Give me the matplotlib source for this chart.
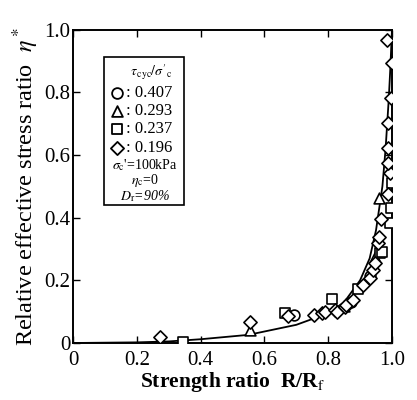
import matplotlib
matplotlib.use('Agg')
import matplotlib.pyplot as plt
from matplotlib.patches import Rectangle

plt.rcParams['font.family'] = 'Liberation Serif'
plt.rcParams['mathtext.fontset'] = 'stix'

# ── data ────────────────────────────────────────────────────────────────────
circle_R   = [0.693, 0.870, 0.930]
circle_eta = [0.088, 0.130, 0.215]

tri_R   = [0.555, 0.850, 0.946, 0.960]
tri_eta = [0.041, 0.118, 0.275, 0.462]

sq_R   = [0.345, 0.665, 0.811, 0.893, 0.962, 0.970, 0.994, 0.997, 1.000]
sq_eta = [0.004, 0.096, 0.140, 0.172, 0.287, 0.290, 0.383, 0.431, 0.510]

dia_R   = [0.273, 0.555, 0.675, 0.756, 0.780, 0.790, 0.821, 0.828, 0.853, 0.856,
           0.878, 0.909, 0.931, 0.940, 0.947, 0.956, 0.959, 0.966, 0.987, 0.994,
           0.987, 0.987, 0.987, 0.996, 0.999, 0.983]
dia_eta = [0.019, 0.067, 0.085, 0.089, 0.096, 0.099, 0.105, 0.099, 0.115, 0.121,
           0.137, 0.185, 0.207, 0.233, 0.255, 0.319, 0.338, 0.396, 0.475, 0.542,
           0.574, 0.622, 0.702, 0.781, 0.893, 0.967]

# fitted curve, points
curve_R   = [0.0, 0.2, 0.3, 0.4, 0.55, 0.7, 0.8, 0.85, 0.9, 0.93, 0.95,
             0.97, 0.98, 0.99, 0.995, 1.0]
curve_eta = [0.0, 0.002, 0.005, 0.012, 0.026, 0.058, 0.095, 0.13, 0.2, 0.27,
             0.36, 0.5, 0.62, 0.78, 0.88, 1.0]

legend_vals = ['0.407', '0.293', '0.237', '0.196']
legend_marks = ['o', '^', 's', 'D']

fig = plt.figure(figsize=(4.17, 4.0), dpi=100)
ax = fig.add_axes([0.175, 0.1425, 0.765, 0.7835])

ax.plot(curve_R, curve_eta, color='black', lw=1.3, zorder=2)

mk = dict(facecolors='white', edgecolors='black', linewidths=1.2, zorder=3)
ax.scatter(circle_R, circle_eta, marker='o', s=60, **mk)
ax.scatter(tri_R, tri_eta, marker='^', s=60, **mk)
ax.scatter(sq_R, sq_eta, marker='s', s=55, **mk)
ax.scatter(dia_R, dia_eta, marker='D', s=45, **mk)

ax.set_xlim(0, 1.0)
ax.set_ylim(0, 1.0)
ax.set_xticks([0, 0.2, 0.4, 0.6, 0.8, 1.0])
ax.set_xticklabels(['0', '0.2', '0.4', '0.6', '0.8', '1.0'])
ax.set_yticks([0, 0.2, 0.4, 0.6, 0.8, 1.0])
ax.set_yticklabels(['0', '0.2', '0.4', '0.6', '0.8', '1.0'])
ax.tick_params(direction='in', length=5, width=1.0, top=True, right=True,
               labelsize=15)
ax.tick_params(axis='x', pad=6)
ax.tick_params(axis='y', pad=2)
for sp in ax.spines.values():
    sp.set_linewidth(1.4)

ax.set_xlabel('Strength ratio  R/R$_\\mathrm{f}$', fontsize=15.5, fontweight='bold',
              labelpad=0)
ax.set_ylabel('Relative effective stress ratio  $\\eta^*$', fontsize=17.5,
              labelpad=2)

# legend box
ax.add_patch(Rectangle((0.097, 0.44), 0.251, 0.472, transform=ax.transAxes,
                       facecolor='white', edgecolor='black', lw=1.2, zorder=4))
ax.text(0.245, 0.864, "$\\tau_{\\,\\mathrm{cyc}}/\\sigma'_{\\mathrm{c}}$",
        transform=ax.transAxes, fontsize=10, ha='center', va='center', zorder=5)
rows_y = [0.797, 0.740, 0.683, 0.622]
for m, v, yy in zip(legend_marks, legend_vals, rows_y):
    ax.scatter([0.138], [yy], marker=m, s=60 if m != 'D' else 45,
               transform=ax.transAxes, facecolors='white', edgecolors='black',
               linewidths=1.3, zorder=5, clip_on=False)
    ax.text(0.165, yy, ': ' + v, transform=ax.transAxes, fontsize=12,
            ha='left', va='center', zorder=5)
ax.text(0.225, 0.567, "$\\sigma_{\\mathrm{c}}$'=100kPa", transform=ax.transAxes,
        fontsize=10, ha='center', va='center', zorder=5)
ax.text(0.225, 0.520, "$\\eta_{\\mathrm{c}}$=0", transform=ax.transAxes,
        fontsize=10, ha='center', va='center', zorder=5)
ax.text(0.225, 0.468, "$D_{\\mathrm{r}}$=90%", transform=ax.transAxes,
        fontsize=10, ha='center', va='center', style='italic', zorder=5)

fig.savefig('out.png', dpi=100)
